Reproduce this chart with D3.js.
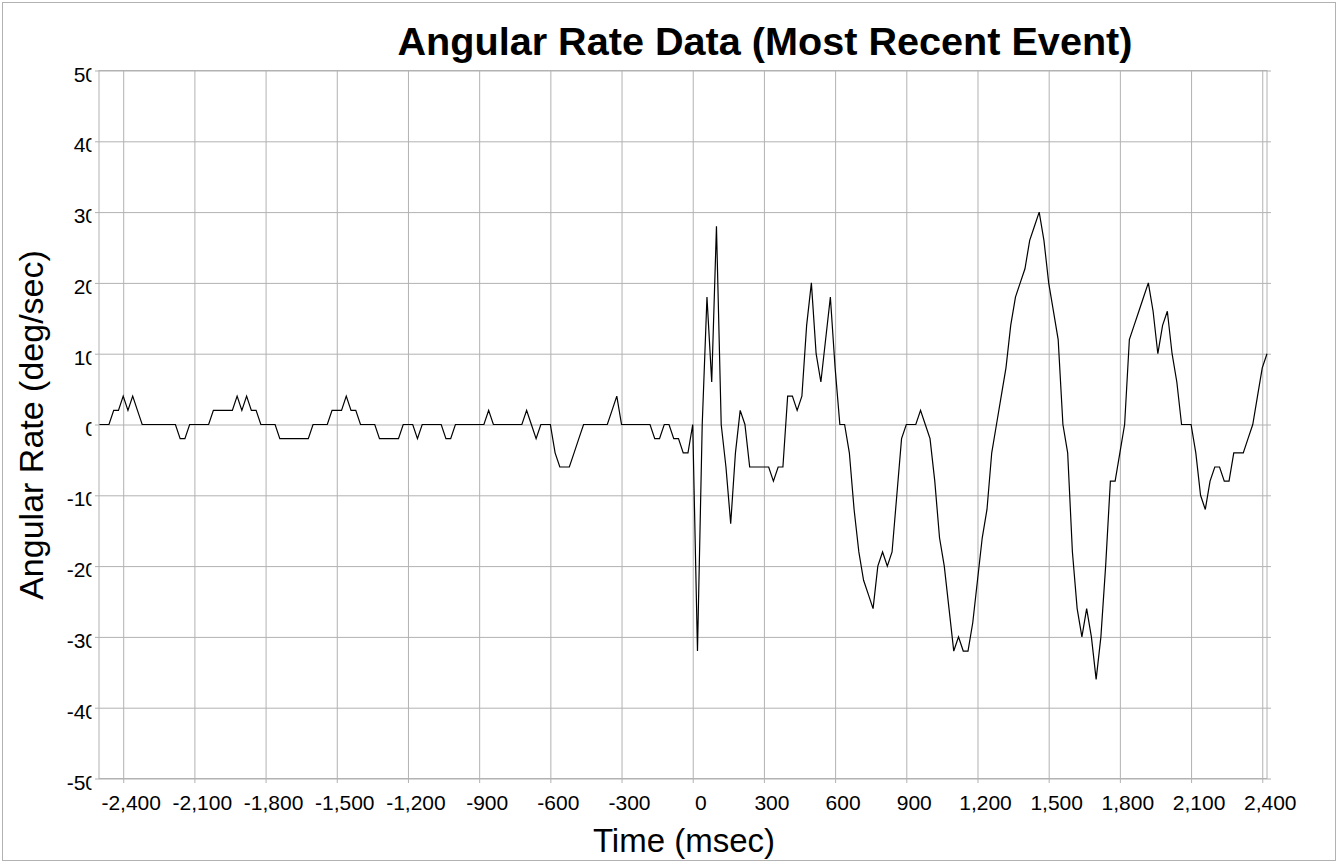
<!DOCTYPE html>
<html>
<head>
<meta charset="utf-8">
<script src="https://cdn.jsdelivr.net/npm/d3@7"></script>
<style>
  body { margin: 0; background: #fff; }
  text { font-family: "Liberation Sans", Arial, sans-serif; fill: #000; }
</style>
</head>
<body>
<script>
// sampled every 20 ms starting at -2500 ms
const startTime = -2500;
const sampleStep = 20;

const rateValues = [
  0, 0, 0, 2, 2, 4, 2, 4, 2, 0,
  0, 0, 0, 0, 0, 0, 0, -2, -2, 0,
  0, 0, 0, 0, 2, 2, 2, 2, 2, 4,
  2, 4, 2, 2, 0, 0, 0, 0, -2, -2,
  -2, -2, -2, -2, -2, 0, 0, 0, 0, 2,
  2, 2, 4, 2, 2, 0, 0, 0, 0, -2,
  -2, -2, -2, -2, 0, 0, 0, -2, 0, 0,
  0, 0, 0, -2, -2, 0, 0, 0, 0, 0,
  0, 0, 2, 0, 0, 0, 0, 0, 0, 0,
  2, 0, -2, 0, 0, 0, -4, -6, -6, -6,
  -4, -2, 0, 0, 0, 0, 0, 0, 2, 4,
  0, 0, 0, 0, 0, 0, 0, -2, -2, 0,
  0, -2, -2, -4, -4, 0, -32, 0, 18, 6,
  28, 0, -6, -14, -4, 2, 0, -6, -6, -6,
  -6, -6, -8, -6, -6, 4, 4, 2, 4, 14,
  20, 10, 6, 12, 18, 8, 0, 0, -4, -12,
  -18, -22, -24, -26, -20, -18, -20, -18, -10, -2,
  0, 0, 0, 2, 0, -2, -8, -16, -20, -26,
  -32, -30, -32, -32, -28, -22, -16, -12, -4, 0,
  4, 8, 14, 18, 20, 22, 26, 28, 30, 26,
  20, 16, 12, 0, -4, -18, -26, -30, -26, -30,
  -36, -30, -20, -8, -8, -4, 0, 12, 14, 16,
  18, 20, 16, 10, 14, 16, 10, 6, 0, 0,
  0, -4, -10, -12, -8, -6, -6, -8, -8, -4,
  -4, -4, -2, 0, 4, 8, 10
];

const xTicks = [-2400, -2100, -1800, -1500, -1200, -900, -600, -300, 0, 300, 600, 900, 1200, 1500, 1800, 2100, 2400];
const yTicks = [-50, -40, -30, -20, -10, 0, 10, 20, 30, 40, 50];

const titleText = "Angular Rate Data (Most Recent Event)";
const xTitle = "Time (msec)";
const yTitle = "Angular Rate (deg/sec)";

const createChart = () => {
  const w = 1338;
  const h = 862;
  const plot = { left: 99, right: 1267, top: 70.5, bottom: 778.5 };
  const gridColor = "#b2b2b2";

  // plain hyphen for negatives, like the original
  const fmt = d3.formatLocale({ decimal: ".", thousands: ",", grouping: [3], currency: ["", ""], minus: "-" }).format(",");

  const points = rateValues.map((v, i) => ({ t: startTime + i * sampleStep, v: v }));

  const x = d3.scaleLinear().domain([-2502, 2420]).range([plot.left, plot.right]);
  const y = d3.scaleLinear().domain([-50, 50]).range([plot.bottom, plot.top]);

  const svg = d3.select("body")
    .append("svg")
    .attr("width", w)
    .attr("height", h);

  // outer frame
  svg.append("rect")
    .attr("x", 2.5).attr("y", 2.5)
    .attr("width", w - 5).attr("height", h - 4)
    .attr("fill", "none")
    .attr("stroke", gridColor);

  svg.append("defs").append("clipPath")
    .attr("id", "ylabel-clip")
    .append("rect")
    .attr("x", 0).attr("y", 0)
    .attr("width", 91.5).attr("height", h);

  // vertical grid + ticks
  svg.append("g")
    .attr("transform", `translate(0,${plot.bottom})`)
    .call(d3.axisBottom(x).tickValues(xTicks).tickSize(-(plot.bottom - plot.top)).tickSizeOuter(0).tickFormat(""))
    .call(g => g.select(".domain").remove())
    .call(g => g.selectAll(".tick line").attr("stroke", gridColor).attr("y1", 4.5));

  // horizontal grid + ticks
  svg.append("g")
    .attr("transform", `translate(${plot.left},0)`)
    .call(d3.axisLeft(y).tickValues(yTicks).tickSize(-(plot.right - plot.left + 4)).tickSizeOuter(0).tickFormat(""))
    .call(g => g.select(".domain").remove())
    .call(g => g.selectAll(".tick line").attr("stroke", gridColor).attr("x1", -4));

  svg.append("rect")
    .attr("x", plot.left).attr("y", plot.top)
    .attr("width", plot.right - plot.left)
    .attr("height", plot.bottom - plot.top)
    .attr("fill", "none")
    .attr("stroke", gridColor);

  // tick labels
  svg.append("g")
    .selectAll("text")
    .data(xTicks)
    .enter()
    .append("text")
    .attr("x", d => x(d) + 8)
    .attr("y", 810)
    .attr("text-anchor", "middle")
    .attr("font-size", 21)
    .text(d => fmt(d));

  svg.append("g")
    .attr("clip-path", "url(#ylabel-clip)")
    .selectAll("text")
    .data(yTicks)
    .enter()
    .append("text")
    .attr("x", 97)
    .attr("y", d => y(d) + 11)
    .attr("text-anchor", "end")
    .attr("font-size", 21)
    .text(d => fmt(d));

  // the trace
  const line = d3.line()
    .x(d => x(d.t))
    .y(d => y(d.v));

  svg.append("path")
    .datum(points)
    .attr("d", line)
    .attr("fill", "none")
    .attr("stroke", "#000")
    .attr("stroke-width", 1.2)
    .attr("stroke-linejoin", "miter");

  // titles
  svg.append("text")
    .attr("x", 765)
    .attr("y", 55)
    .attr("text-anchor", "middle")
    .attr("font-size", 38)
    .attr("font-weight", "bold")
    .attr("textLength", 735)
    .attr("lengthAdjust", "spacingAndGlyphs")
    .text(titleText);

  svg.append("text")
    .attr("x", 684)
    .attr("y", 852)
    .attr("text-anchor", "middle")
    .attr("font-size", 33)
    .text(xTitle);

  svg.append("text")
    .attr("transform", "translate(43,425) rotate(-90)")
    .attr("text-anchor", "middle")
    .attr("font-size", 34)
    .text(yTitle);
};

createChart();
</script>
</body>
</html>
